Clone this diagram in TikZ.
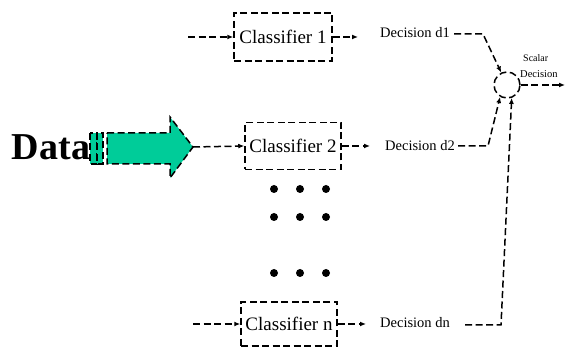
\documentclass[tikz,border=0pt]{standalone}
\usepackage{fontspec}
\setmainfont{Liberation Serif}
\usetikzlibrary{arrows.meta}
\definecolor{datagreen}{RGB}{0,204,153}
\begin{document}
\begin{tikzpicture}[x=1pt,y=-1pt,
    dashline/.style={line width=1.5pt,dash pattern=on 7pt off 3.5pt},
    arr/.style={dashline,-{Latex[length=6pt,width=5pt]}},
    classbox/.style={draw,dashline,minimum width=96pt,minimum height=47pt,font=\fontsize{19}{21}\selectfont,inner sep=0pt},
    dlabel/.style={font=\fontsize{14.5}{16}\selectfont,inner sep=1pt},
    dot/.style={circle,fill,inner sep=0pt,minimum size=8pt}]
    \useasboundingbox (0,0) rectangle (565,347);
    % classifiers
    \node[classbox,minimum width=98pt,minimum height=48pt] (c1) at (283,37) {Classifier 1};
    \node[classbox] (c2) at (293,146) {Classifier 2};
    \node[classbox,minimum height=44pt] (cn) at (289,324) {Classifier n};
    % decisions
    \node[dlabel] (d1) at (415,33) {Decision d1};
    \node[dlabel] (d2) at (420,146) {Decision d2};
    \node[dlabel] (dn) at (415,323) {Decision dn};
    \node[draw,dashline,circle,minimum size=26pt,inner sep=0pt] (sum) at (507,85) {};
    \node[font=\fontsize{10}{11}\selectfont,anchor=west,inner sep=0pt] (scalar) at (523,58) {Scalar};
    \node[font=\fontsize{10.5}{11}\selectfont,anchor=west,inner sep=0pt] (scdec) at (520,74) {Decision};
    % data and big arrow
    \node[font=\fontsize{38}{40}\bfseries\selectfont,inner sep=0pt] (data) at (51,147) {Data};
    \filldraw[fill=datagreen,dashline] (90,133) rectangle (97,164);
    \filldraw[fill=datagreen,dashline] (97,133) rectangle (103,164);
    \filldraw[fill=datagreen,dashline] (107,133) -- (170,133) -- (170,117) -- (193,147)
        -- (170,178) -- (170,164) -- (107,164) -- cycle;
    \coordinate (tip) at (193,147);
    % dots
    \foreach \y in {189,217,273}
        \foreach \x in {274,300,326}
            \node[dot] at (\x,\y) {};
    % connectors
    \coordinate (in1) at (188,37);
    \coordinate (inn) at (193,324);
    \draw[arr] (in1) -- (c1.west);
    \draw[arr] (tip) -- (c2.west);
    \draw[arr] (inn) -- (cn.west);
    \coordinate (o1) at (358,37);
    \coordinate (o2) at (370,146);
    \coordinate (on) at (366,324);
    \draw[arr] (c1.east) -- (o1);
    \draw[arr] (c2.east) -- (o2);
    \draw[arr] (cn.east) -- (on);
    \draw[arr] (d1.east) ++(3,1) -- (483,34) -- (sum.115);
    \draw[arr] (d2.east) ++(2,0) -- (488,146) -- (sum.240);
    \draw[arr] (dn.east) ++(14,2) -- (501,325) -- (sum.290);
    \coordinate (out) at (565,85);
    \draw[arr] (sum.east) -- (out);
\end{tikzpicture}
\end{document}
